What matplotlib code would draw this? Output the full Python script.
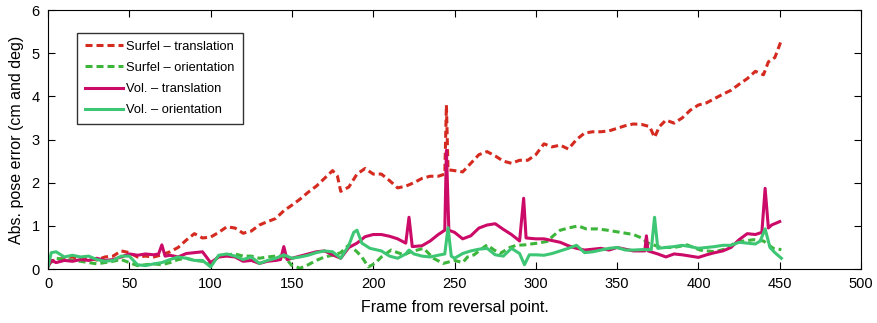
import matplotlib
matplotlib.use('Agg')
import matplotlib.pyplot as plt

plt.rcParams['font.family'] = ['Liberation Sans', 'DejaVu Sans']

# Surfel - translation (red dashed)
st_frames = [0, 5, 10, 15, 20, 25, 30, 35, 40, 45, 50, 55, 60, 65, 70, 75, 80, 85, 90, 95,
             100, 105, 110, 115, 120, 125, 130, 135, 140, 145, 150, 155, 160, 165, 170, 175,
             178, 180, 185, 190, 195, 200, 205, 210, 215, 220, 225, 230, 235, 240, 244, 245,
             246, 250, 255, 260, 265, 270, 275, 280, 285, 290, 295, 300, 305, 310, 315, 320,
             325, 330, 335, 340, 345, 350, 355, 360, 365, 370, 373, 376, 380, 385, 390, 395,
             400, 405, 410, 415, 420, 425, 430, 435, 440, 443, 447, 451]
st_vals = [0.15, 0.22, 0.25, 0.28, 0.22, 0.25, 0.21, 0.28, 0.30, 0.42, 0.38, 0.28, 0.30, 0.28,
           0.33, 0.40, 0.50, 0.67, 0.82, 0.72, 0.74, 0.85, 0.98, 0.95, 0.83, 0.88, 1.02, 1.10,
           1.17, 1.35, 1.48, 1.62, 1.78, 1.92, 2.10, 2.28, 2.15, 1.80, 1.90, 2.20, 2.33, 2.20,
           2.20, 2.05, 1.88, 1.92, 2.00, 2.10, 2.15, 2.15, 2.20, 3.80, 2.30, 2.28, 2.25, 2.45,
           2.65, 2.72, 2.62, 2.50, 2.45, 2.52, 2.52, 2.65, 2.90, 2.83, 2.87, 2.78, 3.00, 3.15,
           3.18, 3.18, 3.20, 3.26, 3.32, 3.36, 3.35, 3.30, 3.05, 3.30, 3.45, 3.38, 3.50, 3.68,
           3.80, 3.85, 3.95, 4.05, 4.14, 4.28, 4.41, 4.58, 4.50, 4.80, 4.90, 5.30]

# Surfel - orientation (green dashed)
so_frames = [0, 5, 10, 15, 20, 25, 30, 35, 40, 45, 50, 55, 60, 65, 70, 75, 80, 85, 90, 95,
             100, 105, 110, 115, 120, 125, 130, 135, 140, 145, 150, 155, 160, 165, 170, 175,
             180, 185, 190, 193, 197, 201, 205, 211, 215, 219, 223, 227, 231, 237, 243, 250,
             255, 258, 262, 266, 270, 274, 278, 284, 288, 293, 297, 301, 307, 311, 315, 320,
             326, 331, 338, 344, 352, 360, 365, 369, 377, 385, 393, 401, 410, 418, 422, 426,
             434, 440, 446, 451]
so_vals = [0.10, 0.25, 0.22, 0.20, 0.18, 0.15, 0.12, 0.15, 0.18, 0.22, 0.15, 0.08, 0.10, 0.12,
           0.10, 0.15, 0.22, 0.25, 0.20, 0.18, 0.10, 0.30, 0.33, 0.35, 0.30, 0.30, 0.25, 0.28,
           0.30, 0.30, 0.08, 0.02, 0.10, 0.20, 0.28, 0.32, 0.38, 0.56, 0.40, 0.28, 0.05, 0.13,
           0.28, 0.44, 0.38, 0.33, 0.40, 0.44, 0.48, 0.25, 0.13, 0.20, 0.15, 0.28, 0.33, 0.45,
           0.56, 0.45, 0.36, 0.50, 0.55, 0.56, 0.58, 0.60, 0.64, 0.78, 0.90, 0.95, 1.00, 0.93,
           0.93, 0.90, 0.85, 0.80, 0.72, 0.60, 0.50, 0.50, 0.56, 0.44, 0.40, 0.48, 0.60, 0.64,
           0.68, 0.65, 0.48, 0.45]

# Vol. - translation (magenta solid)
vt_frames = [0, 2, 5, 10, 15, 20, 25, 30, 35, 40, 45, 50, 55, 60, 65, 68, 70, 72, 75, 80,
             85, 90, 95, 100, 105, 110, 115, 120, 125, 130, 135, 140, 143, 145, 147, 150, 155,
             160, 165, 170, 175, 180, 185, 190, 195, 200, 205, 210, 215, 220, 222, 224, 230,
             235, 240, 244, 245, 246.5, 250, 255, 260, 265, 270, 275, 280, 285, 290, 292.5,
             294, 300, 305, 310, 315, 320, 325, 330, 335, 340, 345, 350, 355, 360, 365, 367,
             368, 369, 375, 380, 385, 390, 395, 400, 405, 410, 415, 420, 425, 430, 435, 439,
             441, 443, 445, 450]
vt_vals = [0.05, 0.20, 0.15, 0.20, 0.18, 0.22, 0.20, 0.25, 0.20, 0.22, 0.28, 0.35, 0.32, 0.35,
           0.33, 0.35, 0.56, 0.30, 0.32, 0.28, 0.36, 0.38, 0.40, 0.15, 0.28, 0.30, 0.28, 0.18,
           0.20, 0.13, 0.18, 0.20, 0.22, 0.52, 0.22, 0.25, 0.30, 0.35, 0.40, 0.42, 0.33, 0.25,
           0.50, 0.60, 0.75, 0.80, 0.80, 0.76, 0.70, 0.60, 1.20, 0.52, 0.54, 0.65, 0.80, 0.90,
           2.75, 0.90, 0.85, 0.70, 0.77, 0.95, 1.02, 1.05, 0.92, 0.80, 0.65, 1.64, 0.72, 0.70,
           0.70, 0.66, 0.62, 0.54, 0.48, 0.44, 0.46, 0.48, 0.44, 0.50, 0.46, 0.42, 0.42, 0.42,
           0.77, 0.42, 0.35, 0.28, 0.35, 0.33, 0.30, 0.27, 0.33, 0.38, 0.42, 0.50, 0.68, 0.82,
           0.80, 0.85, 1.87, 0.95, 1.02, 1.10]

# Vol. - orientation (light green solid)
vo_frames = [0, 2, 5, 10, 15, 20, 25, 30, 35, 40, 45, 50, 55, 60, 65, 70, 75, 80, 85, 90,
             95, 100, 105, 110, 115, 120, 125, 130, 135, 140, 145, 150, 155, 160, 165, 170,
             175, 180, 185, 188, 190, 193, 198, 205, 210, 215, 220, 222, 225, 230, 235, 240,
             244, 246, 248, 250, 255, 260, 265, 270, 275, 280, 285, 290, 293, 296, 300, 305,
             310, 315, 320, 325, 330, 335, 340, 345, 350, 355, 360, 365, 371, 373, 375, 380,
             385, 390, 395, 400, 405, 410, 415, 420, 425, 430, 435, 438, 441, 444, 447, 451]
vo_vals = [0.05, 0.38, 0.40, 0.28, 0.32, 0.28, 0.30, 0.22, 0.18, 0.20, 0.30, 0.30, 0.10, 0.08,
           0.12, 0.15, 0.22, 0.28, 0.25, 0.20, 0.20, 0.05, 0.32, 0.35, 0.30, 0.22, 0.28, 0.13,
           0.20, 0.25, 0.33, 0.25, 0.28, 0.32, 0.38, 0.42, 0.40, 0.25, 0.55, 0.85, 0.90, 0.60,
           0.48, 0.42, 0.30, 0.25, 0.35, 0.44, 0.35, 0.30, 0.28, 0.32, 0.35, 0.96, 0.30, 0.25,
           0.36, 0.42, 0.46, 0.48, 0.33, 0.30, 0.48, 0.36, 0.10, 0.33, 0.33, 0.32, 0.36, 0.42,
           0.48, 0.55, 0.38, 0.40, 0.44, 0.48, 0.50, 0.44, 0.44, 0.45, 0.45, 1.20, 0.48, 0.50,
           0.52, 0.55, 0.52, 0.48, 0.50, 0.52, 0.55, 0.55, 0.62, 0.60, 0.58, 0.65, 0.93, 0.50,
           0.38, 0.25]

fig = plt.figure(figsize=(8.78, 3.23), dpi=100)
ax = fig.add_axes([0.0547, 0.167, 0.926, 0.802])

dash = (0, (2.3, 1.3))
ax.plot(st_frames, st_vals, color='#d42a1f', linestyle=dash, lw=2.2, label='Surfel \u2013 translation')
ax.plot(so_frames, so_vals, color='#3db53a', linestyle=dash, lw=2.2, label='Surfel \u2013 orientation')
ax.plot(vt_frames, vt_vals, color='#cc0a68', lw=2.2, label='Vol. \u2013 translation')
ax.plot(vo_frames, vo_vals, color='#3dc674', lw=2.2, label='Vol. \u2013 orientation')

ax.set_xlim(0, 500)
ax.set_ylim(0, 6)
ax.set_xticks(range(0, 501, 50))
ax.set_yticks(range(0, 7))
ax.tick_params(direction='in', top=True, right=True, length=5, labelsize=10.5, pad=6)
ax.set_xlabel('Frame from reversal point.', fontsize=11.5, labelpad=6)
ax.set_ylabel('Abs. pose error (cm and deg)', fontsize=11.5, labelpad=5)

leg = ax.legend(loc='upper left', bbox_to_anchor=(0.036, 0.911), fontsize=9.3,
                frameon=True, fancybox=False, edgecolor='black', handlelength=2.9,
                borderpad=0.6, labelspacing=0.7, handletextpad=0.3, borderaxespad=0)
leg.get_frame().set_linewidth(1.0)

fig.savefig('out.png', dpi=100)
